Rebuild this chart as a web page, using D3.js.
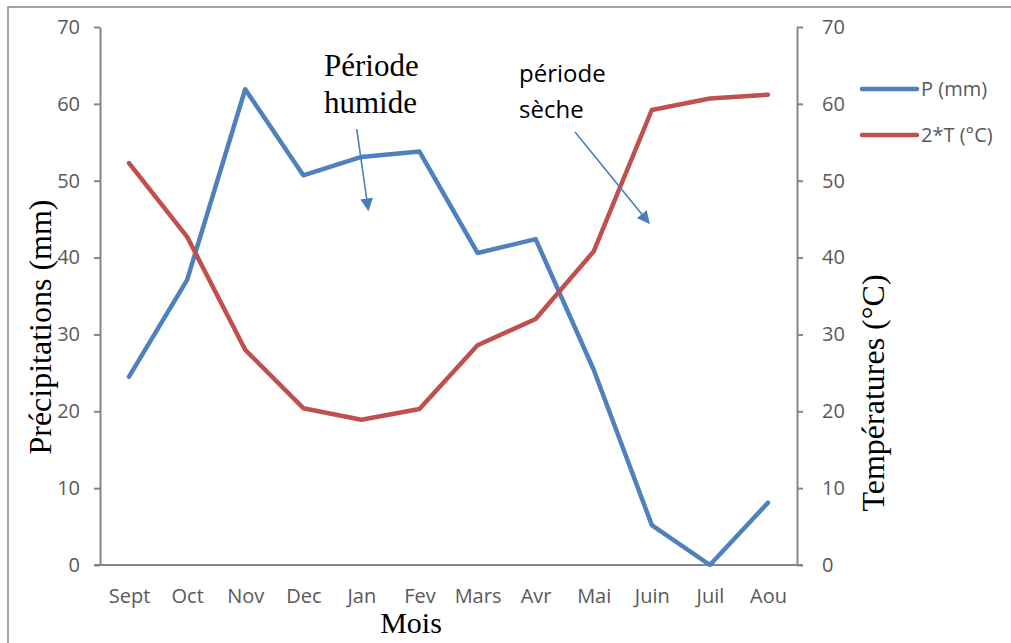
<!DOCTYPE html>
<html>
<head>
<meta charset="utf-8">
<script src="https://cdn.jsdelivr.net/npm/d3@7"></script>
<style>
  body { margin: 0; background: #fff; }
  .axis path, .axis line { stroke: #868686; stroke-width: 2px; }
  .axis text { fill: #595959; font-family: "Open Sans", sans-serif; font-size: 20px; }
</style>
</head>
<body>
<div id="chart"></div>
<script>
// data
var mois = ["Sept", "Oct", "Nov", "Dec", "Jan", "Fev", "Mars", "Avr", "Mai", "Juin", "Juil", "Aou"];
var precip = [24.5, 37.1, 61.9, 50.7, 53.1, 53.8, 40.6, 42.4, 25.4, 5.2, 0, 8.1];
var temp2 = [52.3, 42.7, 28.0, 20.4, 18.9, 20.3, 28.6, 32.0, 40.8, 59.2, 60.7, 61.2];
var yTicks = [0, 10, 20, 30, 40, 50, 60, 70];
var series = [
  {name: "P (mm)", values: precip, color: "#4F81BD"},
  {name: "2*T (°C)", values: temp2, color: "#C0504D"}
];

var width = 1011, height = 643;
var plot = {left: 100, right: 797, top: 27, bottom: 565};

var svg = d3.select("#chart").append("svg")
    .attr("width", width)
    .attr("height", height);

// outer frame
svg.append("rect")
    .attr("x", 8).attr("y", 7)
    .attr("width", 1020).attr("height", 650)
    .attr("fill", "none")
    .attr("stroke", "#868686")
    .attr("stroke-width", 1.5);

var xScale = d3.scalePoint().domain(mois).range([plot.left, plot.right]).padding(0.5);
var yLeft = d3.scaleLinear().domain([0, 70]).range([plot.bottom, plot.top]);
var yRight = d3.scaleLinear().domain([0, 70]).range([plot.bottom, plot.top]);

svg.append("g")
    .attr("class", "axis")
    .attr("transform", "translate(" + plot.left + ",0)")
    .call(d3.axisLeft(yLeft).tickValues(yTicks).tickSize(6).tickSizeOuter(0).tickPadding(14));

svg.append("g")
    .attr("class", "axis")
    .attr("transform", "translate(" + plot.right + ",0)")
    .call(d3.axisRight(yRight).tickValues(yTicks).tickSize(6).tickSizeOuter(0).tickPadding(19));

var xAxis = svg.append("g")
    .attr("class", "axis")
    .attr("transform", "translate(0," + plot.bottom + ")")
    .call(d3.axisBottom(xScale).tickSize(0).tickSizeOuter(0).tickPadding(24));
xAxis.select(".domain").attr("d", "M" + (plot.left - 6) + ",0H" + (plot.right + 6));

var line = d3.line()
    .x(function(d, i) { return xScale(mois[i]); })
    .y(function(d) { return yLeft(d); });

svg.selectAll(".serie")
    .data(series)
    .enter().append("path")
    .attr("class", "serie")
    .attr("d", function(d) { return line(d.values); })
    .attr("fill", "none")
    .attr("stroke", function(d) { return d.color; })
    .attr("stroke-width", 4.5)
    .attr("stroke-linecap", "round")
    .attr("stroke-linejoin", "round");

// legend
var legend = svg.selectAll(".legend")
    .data(series)
    .enter().append("g")
    .attr("class", "legend")
    .attr("transform", function(d, i) { return "translate(862," + (89 + i * 46) + ")"; });
legend.append("line")
    .attr("x1", 0).attr("x2", 55)
    .attr("stroke", function(d) { return d.color; })
    .attr("stroke-width", 4.5)
    .attr("stroke-linecap", "round");
legend.append("text")
    .attr("x", 59)
    .attr("dy", "0.35em")
    .style("font-family", "'Open Sans', sans-serif")
    .style("font-size", "20px")
    .attr("fill", "#595959")
    .text(function(d) { return d.name; });

// axis titles
var serif = "'Liberation Serif', 'Times New Roman', serif";
svg.append("text")
    .attr("transform", "translate(40,327) rotate(-90)")
    .attr("text-anchor", "middle")
    .attr("dominant-baseline", "central")
    .style("font-family", serif).style("font-size", "32px")
    .text("Précipitations (mm)");
svg.append("text")
    .attr("transform", "translate(873,393) rotate(-90)")
    .attr("text-anchor", "middle")
    .attr("dominant-baseline", "central")
    .style("font-family", serif).style("font-size", "32px")
    .text("Températures (°C)");
svg.append("text")
    .attr("x", 411).attr("y", 633)
    .attr("text-anchor", "middle")
    .style("font-family", serif).style("font-size", "30px")
    .text("Mois");

// annotations
var humide = svg.append("text")
    .style("font-family", serif).style("font-size", "31px");
humide.append("tspan").attr("x", 324).attr("y", 76).text("Période");
humide.append("tspan").attr("x", 324).attr("y", 113).text("humide");

var seche = svg.append("text")
    .style("font-family", "'Open Sans', sans-serif").style("font-size", "24px");
seche.append("tspan").attr("x", 519).attr("y", 82).text("période");
seche.append("tspan").attr("x", 519).attr("y", 118).text("sèche");

svg.append("defs").append("marker")
    .attr("id", "arrow")
    .attr("viewBox", "0 0 10 10")
    .attr("refX", 9).attr("refY", 5)
    .attr("markerWidth", 8).attr("markerHeight", 8)
    .attr("markerUnits", "strokeWidth")
    .attr("orient", "auto")
  .append("path")
    .attr("d", "M0,0L10,5L0,10z")
    .attr("fill", "#4A7EBB");

var arrows = [[356.7, 129, 368.3, 210], [575, 132, 649, 223]];
svg.selectAll(".arrow")
    .data(arrows)
    .enter().append("line")
    .attr("class", "arrow")
    .attr("x1", function(d) { return d[0]; })
    .attr("y1", function(d) { return d[1]; })
    .attr("x2", function(d) { return d[2]; })
    .attr("y2", function(d) { return d[3]; })
    .attr("stroke", "#4A7EBB")
    .attr("stroke-width", 1.6)
    .attr("marker-end", "url(#arrow)");
</script>
</body>
</html>
